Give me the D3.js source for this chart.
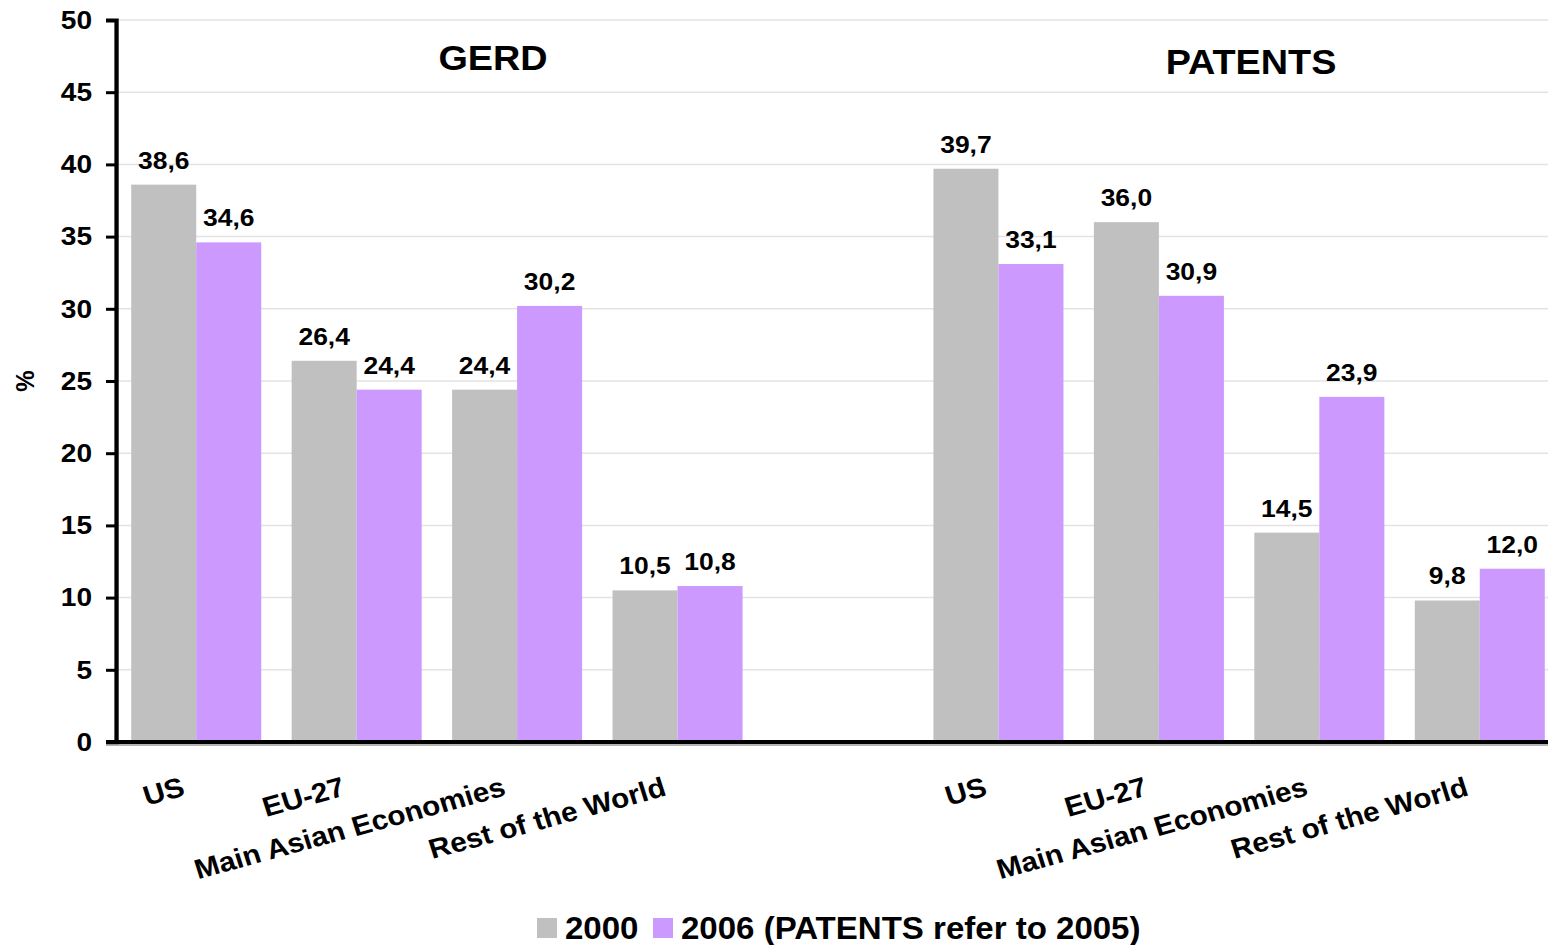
<!DOCTYPE html>
<html>
<head>
<meta charset="utf-8">
<script src="https://cdn.jsdelivr.net/npm/d3@7"></script>
<style>
  html, body { margin: 0; padding: 0; background: #fff; }
  svg { display: block; }
  text { font-family: "Liberation Sans", Arial, sans-serif; font-weight: bold; fill: #000; }
</style>
</head>
<body>
<svg id="chart"></svg>
<script>
// data
var panels = ["GERD", "PATENTS"];
var regions = ["US", "EU-27", "Main Asian Economies", "Rest of the World"];
var years = ["2000", "2006"];
var gerd2000 = [38.6, 26.4, 24.4, 10.5];
var gerd2006 = [34.6, 24.4, 30.2, 10.8];
var pat2000 = [39.7, 36.0, 14.5, 9.8];
var pat2006 = [33.1, 30.9, 23.9, 12.0];
var yTicks = [0, 5, 10, 15, 20, 25, 30, 35, 40, 45, 50];
var legendLabels = ["2000", "2006 (PATENTS refer to 2005)"];

var W = 1548, H = 945;
var k = 1.08; // text in the reference is slightly stretched horizontally
var VW = W / k;
var px = function (v) { return v / k; };

var svg = d3.select("#chart")
    .attr("width", W)
    .attr("height", H)
    .attr("viewBox", "0 0 " + VW + " " + H)
    .attr("preserveAspectRatio", "none");

var colors = d3.scaleOrdinal().domain(years).range(["#c0c0c0", "#cc99ff"]);

// slots: 4 GERD, one empty, 4 PATENTS
var slots = regions.map(function (r) { return "GERD|" + r; })
    .concat(["gap"])
    .concat(regions.map(function (r) { return "PATENTS|" + r; }));

var x0 = d3.scaleBand().domain(slots).range([px(116), px(1560)]).padding(0);
var x1 = d3.scaleBand().domain(years).range([0, x0.bandwidth()]).paddingOuter(0.234).paddingInner(0);
var y = d3.scaleLinear().domain([0, 50]).range([742, 20]);

var rows = [];
regions.forEach(function (r, i) {
    rows.push({ slot: "GERD|" + r, region: r, year: "2000", value: gerd2000[i] });
    rows.push({ slot: "GERD|" + r, region: r, year: "2006", value: gerd2006[i] });
    rows.push({ slot: "PATENTS|" + r, region: r, year: "2000", value: pat2000[i] });
    rows.push({ slot: "PATENTS|" + r, region: r, year: "2006", value: pat2006[i] });
});

// gridlines
svg.append("g")
    .selectAll("line")
    .data(yTicks.filter(function (t) { return t > 0; }))
    .enter().append("line")
    .attr("x1", px(116))
    .attr("x2", VW)
    .attr("y1", function (d) { return y(d); })
    .attr("y2", function (d) { return y(d); })
    .attr("stroke", "#e3e3e3")
    .attr("stroke-width", 1.5);

// bars
svg.append("g")
    .selectAll("rect")
    .data(rows)
    .enter().append("rect")
    .attr("x", function (d) { return x0(d.slot) + x1(d.year); })
    .attr("width", x1.bandwidth())
    .attr("y", function (d) { return y(d.value); })
    .attr("height", function (d) { return y(0) - y(d.value); })
    .attr("fill", function (d) { return colors(d.year); });

// value labels
svg.append("g")
    .selectAll("text")
    .data(rows)
    .enter().append("text")
    .attr("x", function (d) { return x0(d.slot) + x1(d.year) + x1.bandwidth() / 2; })
    .attr("y", function (d) { return y(d.value) - 16; })
    .attr("text-anchor", "middle")
    .style("font-size", "24.5px")
    .text(function (d) { return d.value.toFixed(1).replace(".", ","); });

// y axis
var yAxis = d3.axisLeft(y)
    .tickValues(yTicks)
    .tickSize(px(10))
    .tickPadding(px(14))
    .tickFormat(d3.format("d"));

var ya = svg.append("g")
    .attr("transform", "translate(" + px(116) + ",0)")
    .call(yAxis);
ya.select(".domain").attr("stroke", "#000").attr("stroke-width", 4);
ya.selectAll(".tick line").attr("stroke", "#000").attr("stroke-width", 3);
ya.selectAll(".tick text")
    .style("font-size", "26px")
    .style("font-family", "'Liberation Sans', Arial, sans-serif")
    .style("font-weight", "bold");

// x axis baseline
svg.append("line")
    .attr("x1", px(106))
    .attr("x2", VW)
    .attr("y1", y(0))
    .attr("y2", y(0))
    .attr("stroke", "#000")
    .attr("stroke-width", 4);
svg.append("line")
    .attr("x1", px(106))
    .attr("x2", VW)
    .attr("y1", y(0) + 3)
    .attr("y2", y(0) + 3)
    .attr("stroke", "#9a9a9a")
    .attr("stroke-width", 1.5);

// category labels, rotated
svg.append("g")
    .selectAll("text")
    .data(slots.filter(function (s) { return s !== "gap"; }))
    .enter().append("text")
    .attr("text-anchor", "end")
    .attr("transform", function (d) {
        var cx = x0(d) + x0.bandwidth() / 2 - px(10);
        return "translate(" + cx + ",795) rotate(-16.4)";
    })
    .style("font-size", "27.5px")
    .text(function (d) { return d.split("|")[1]; });

// panel titles
var panelCenter = { "GERD": px(493), "PATENTS": px(1251) };
var panelBase = { "GERD": 70, "PATENTS": 74 };
svg.append("g")
    .selectAll("text")
    .data(panels)
    .enter().append("text")
    .attr("x", function (d) { return panelCenter[d]; })
    .attr("y", function (d) { return panelBase[d]; })
    .attr("text-anchor", "middle")
    .style("font-size", "35px")
    .text(function (d) { return d; });

// y axis title
svg.append("text")
    .attr("transform", "translate(" + px(34) + ",381) rotate(-90)")
    .attr("text-anchor", "middle")
    .style("font-size", "24px")
    .text("%");

// legend
var legendX = [px(537), px(653)];
var lg = svg.append("g")
    .selectAll("g")
    .data(years)
    .enter().append("g");
lg.append("rect")
    .attr("x", function (d, i) { return legendX[i]; })
    .attr("y", 918)
    .attr("width", px(20))
    .attr("height", 20)
    .attr("fill", function (d) { return colors(d); });
lg.append("text")
    .attr("x", function (d, i) { return legendX[i] + px(28); })
    .attr("y", 939)
    .style("font-size", "30.6px")
    .text(function (d, i) { return legendLabels[i]; });
</script>
</body>
</html>
